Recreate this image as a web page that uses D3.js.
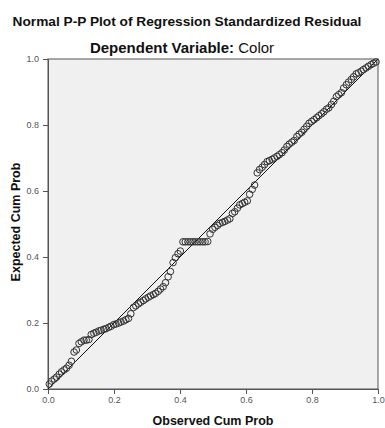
<!DOCTYPE html>
<html>
<head>
<meta charset="utf-8">
<script src="https://cdn.jsdelivr.net/npm/d3@7"></script>
<style>
  body { margin: 0; background: #fff; }
  svg { display: block; font-family: "Liberation Sans", Arial, sans-serif; }
</style>
</head>
<body>
<div id="chart"></div>
<script>
// observed cumulative probability (x) and expected cumulative probability (y)
const observed = [
  0.004, 0.011, 0.019, 0.026, 0.034, 0.041, 0.049, 0.056, 0.064, 0.071,
  0.079, 0.086, 0.094, 0.101, 0.109, 0.116, 0.124, 0.131, 0.139, 0.146,
  0.154, 0.161, 0.169, 0.176, 0.184, 0.191, 0.199, 0.206, 0.214, 0.221,
  0.229, 0.236, 0.244, 0.251, 0.259, 0.266, 0.274, 0.281, 0.289, 0.296,
  0.304, 0.311, 0.319, 0.326, 0.334, 0.341, 0.349, 0.356, 0.364, 0.371,
  0.379, 0.386, 0.394, 0.401, 0.409, 0.416, 0.424, 0.431, 0.439, 0.446,
  0.454, 0.461, 0.469, 0.476, 0.484, 0.491, 0.499, 0.506, 0.514, 0.521,
  0.529, 0.536, 0.544, 0.551, 0.559, 0.566, 0.574, 0.581, 0.589, 0.596,
  0.604, 0.611, 0.619, 0.626, 0.634, 0.641, 0.649, 0.656, 0.664, 0.671,
  0.679, 0.686, 0.694, 0.701, 0.709, 0.716, 0.724, 0.731, 0.739, 0.746,
  0.754, 0.761, 0.769, 0.776, 0.784, 0.791, 0.799, 0.806, 0.814, 0.821,
  0.829, 0.836, 0.844, 0.851, 0.859, 0.866, 0.874, 0.881, 0.889, 0.896,
  0.904, 0.911, 0.919, 0.926, 0.934, 0.941, 0.949, 0.956, 0.964, 0.971,
  0.979, 0.986, 0.994
];
const expected = [
  0.015, 0.024, 0.030, 0.036, 0.045, 0.052, 0.058, 0.063, 0.072, 0.084,
  0.112, 0.118, 0.138, 0.143, 0.148, 0.148, 0.150, 0.165, 0.169, 0.172,
  0.176, 0.178, 0.181, 0.183, 0.187, 0.190, 0.195, 0.197, 0.200, 0.203,
  0.206, 0.210, 0.214, 0.228, 0.247, 0.252, 0.258, 0.263, 0.268, 0.273,
  0.278, 0.282, 0.286, 0.290, 0.296, 0.303, 0.310, 0.322, 0.340, 0.356,
  0.383, 0.398, 0.410, 0.418, 0.446, 0.446, 0.446, 0.446, 0.446, 0.446,
  0.446, 0.446, 0.446, 0.446, 0.447, 0.470, 0.484, 0.490, 0.496, 0.502,
  0.505, 0.508, 0.512, 0.516, 0.532, 0.537, 0.548, 0.558, 0.562, 0.566,
  0.570, 0.590, 0.605, 0.618, 0.655, 0.665, 0.672, 0.680, 0.689, 0.692,
  0.696, 0.700, 0.705, 0.710, 0.716, 0.724, 0.735, 0.742, 0.748, 0.753,
  0.765, 0.772, 0.778, 0.787, 0.796, 0.805, 0.811, 0.816, 0.822, 0.828,
  0.834, 0.840, 0.848, 0.852, 0.862, 0.872, 0.886, 0.892, 0.898, 0.912,
  0.922, 0.930, 0.938, 0.946, 0.955, 0.958, 0.963, 0.968, 0.973, 0.978,
  0.983, 0.987, 0.991
];
const ticks = [0.0, 0.2, 0.4, 0.6, 0.8, 1.0];
const refLine = [0, 1];

const width = 385;
const height = 428;
const margin = { top: 59, right: 7, bottom: 39, left: 48 };

const svg = d3.select('#chart')
  .append('svg')
  .attr('width', width)
  .attr('height', height);

const x = d3.scaleLinear().domain([0, 1]).range([margin.left, width - margin.right]);
const y = d3.scaleLinear().domain([0, 1]).range([height - margin.bottom, margin.top]);

// plot background
svg.append('rect')
  .attr('x', x(0))
  .attr('y', y(1))
  .attr('width', x(1) - x(0))
  .attr('height', y(0) - y(1))
  .attr('fill', '#f0f0f0')
  .attr('stroke', '#555')
  .attr('stroke-width', 1);

const fmt = d3.format('.1f');

const xAxis = svg.append('g')
  .attr('transform', `translate(0, ${y(0)})`)
  .call(d3.axisBottom(x).tickValues(ticks).tickFormat(fmt).tickSize(5).tickPadding(3));

const yAxis = svg.append('g')
  .attr('transform', `translate(${x(0)}, 0)`)
  .call(d3.axisLeft(y).tickValues(ticks).tickFormat(fmt).tickSize(5).tickPadding(4));

[xAxis, yAxis].forEach(a => {
  a.select('.domain').attr('stroke', '#555');
  a.selectAll('.tick line').attr('stroke', '#555');
  a.selectAll('.tick text')
    .attr('fill', '#555')
    .style('font-size', '9px')
    .style('font-family', '"Liberation Sans", Arial, sans-serif');
});

// diagonal reference line
svg.append('line')
  .attr('x1', x(refLine[0]))
  .attr('y1', y(refLine[0]))
  .attr('x2', x(refLine[1]))
  .attr('y2', y(refLine[1]))
  .attr('stroke', '#111')
  .attr('stroke-width', 1);

// points
svg.append('g')
  .selectAll('circle')
  .data(observed.map((d, i) => [d, expected[i]]))
  .enter()
  .append('circle')
  .attr('cx', d => x(d[0]))
  .attr('cy', d => y(d[1]))
  .attr('r', 3.3)
  .attr('fill', 'none')
  .attr('stroke', '#333')
  .attr('stroke-width', 1);

// titles
svg.append('text')
  .attr('x', 187)
  .attr('y', 26)
  .attr('text-anchor', 'middle')
  .style('font-size', '13.7px')
  .style('font-weight', 'bold')
  .attr('fill', '#111')
  .text('Normal P-P Plot of Regression Standardized Residual');

const sub = svg.append('text')
  .attr('x', 182)
  .attr('y', 53)
  .attr('text-anchor', 'middle')
  .style('font-size', '15px')
  .attr('fill', '#111');
sub.append('tspan').style('font-weight', 'bold').text('Dependent Variable: ');
sub.append('tspan').text('Color');

svg.append('text')
  .attr('x', (x(0) + x(1)) / 2)
  .attr('y', 425)
  .attr('text-anchor', 'middle')
  .style('font-size', '12.5px')
  .style('font-weight', 'bold')
  .attr('fill', '#111')
  .text('Observed Cum Prob');

svg.append('text')
  .attr('transform', `translate(20, 222) rotate(-90)`)
  .attr('text-anchor', 'middle')
  .style('font-size', '12.5px')
  .style('font-weight', 'bold')
  .attr('fill', '#111')
  .text('Expected Cum Prob');
</script>
</body>
</html>
